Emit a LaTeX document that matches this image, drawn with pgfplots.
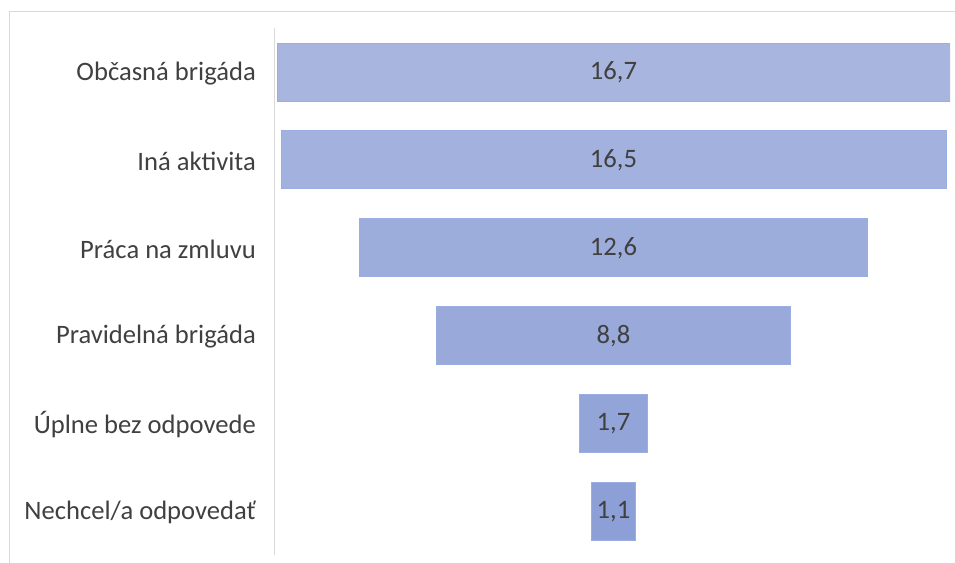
\documentclass[border=0pt]{standalone}
\usepackage{pgfplots}
\pgfplotsset{compat=1.18}
\usepackage{fontspec}
\setmainfont{Carlito}
\usetikzlibrary{calc}

\definecolor{txt}{HTML}{404040}
\definecolor{frame}{HTML}{D9D9D9}
\definecolor{edge}{HTML}{9AAEE3}
\definecolor{b1}{HTML}{A7B5DF}
\definecolor{b2}{HTML}{A2B1DD}
\definecolor{b3}{HTML}{9DADDB}
\definecolor{b4}{HTML}{98A9DA}
\definecolor{b5}{HTML}{92A4D8}
\definecolor{b6}{HTML}{8C9FD6}

\begin{document}
\begin{tikzpicture}
\pgfplotsset{funnel/.style={
  scale only axis, width=675pt, height=527pt,
  xmin=-0.05, xmax=16.7, ymin=-0.5, ymax=5.5, y dir=reverse}}

% bars: invisible offset, then one series per bar (zeros elsewhere)
\begin{axis}[funnel,
  xbar stacked, bar width=58pt,
  axis x line=none, axis y line=left,
  y axis line style={-, draw=frame, line width=1pt},
  ytick={0,...,5},
  yticklabels={Občasná brigáda, Iná aktivita, Práca na zmluvu,
    Pravidelná brigáda, Úplne bez odpovede, Nechcel/a odpovedať},
  major tick length=0pt,
  yticklabel style={font=\fontsize{26.6}{30}\selectfont, text=txt, inner sep=0pt, xshift=-19pt, yshift=-1.5pt},
  every axis plot/.append style={draw=edge, line width=0.8pt}]
\coordinate (bl) at (axis cs:-0.05,5.5);
\coordinate (tr) at (axis cs:16.7,-0.5);
\addplot[fill=none, draw=none] coordinates {(0,0) (0.1,1) (2.05,2) (3.95,3) (7.5,4) (7.8,5)};
\addplot[fill=b1] coordinates {(16.7,0) (0,1) (0,2) (0,3) (0,4) (0,5)};
\addplot[fill=b2] coordinates {(0,0) (16.5,1) (0,2) (0,3) (0,4) (0,5)};
\addplot[fill=b3] coordinates {(0,0) (0,1) (12.6,2) (0,3) (0,4) (0,5)};
\addplot[fill=b4] coordinates {(0,0) (0,1) (0,2) (8.8,3) (0,4) (0,5)};
\addplot[fill=b5] coordinates {(0,0) (0,1) (0,2) (0,3) (1.7,4) (0,5)};
\addplot[fill=b6] coordinates {(0,0) (0,1) (0,2) (0,3) (0,4) (1.1,5)};
\end{axis}

% value labels in the middle of each bar
\begin{axis}[funnel, hide axis,
  /pgf/number format/.cd, use comma, fixed, fixed zerofill, precision=1, assume math mode=true]
\addplot[draw=none, mark=none, nodes near coords, point meta=explicit,
  nodes near coords align=center,
  every node near coord/.append style={anchor=center, font=\fontsize{26.6}{30}\selectfont, text=txt, yshift=-0.5pt}]
  table[meta=v] {
x    y v
8.35 0 16.7
8.35 1 16.5
8.35 2 12.6
8.35 3 8.8
8.35 4 1.7
8.35 5 1.1
};
\end{axis}

\pgfresetboundingbox
\path[use as bounding box] ($(bl)+(-275pt,-8pt)$) rectangle ($(tr)+(5pt,28pt)$);
\draw[frame, line width=1pt] ($(bl)+(-265pt,-40pt)$) |- ($(tr)+(40pt,16pt)$);
\end{tikzpicture}
\end{document}
